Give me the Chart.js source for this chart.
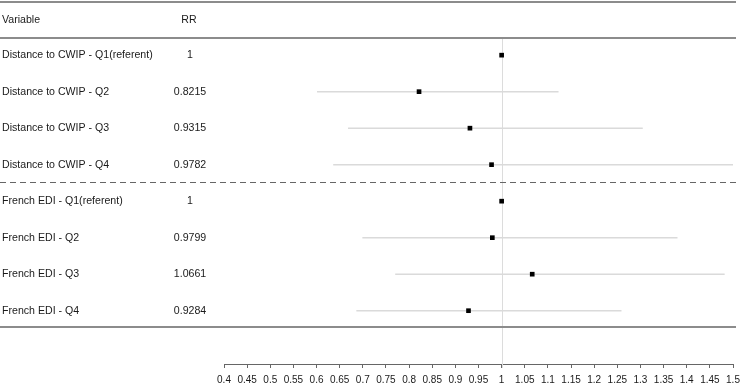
<!DOCTYPE html>
<html>
<head>
<meta charset="utf-8">
<script src="https://cdn.jsdelivr.net/npm/chart.js"></script>
<style>
  body { margin: 0; background: #fff; }
  #wrap { width: 746px; height: 389px; position: relative; }
</style>
</head>
<body>
<div id="wrap"><canvas id="forest"></canvas></div>
<script>
// table rows, top to bottom
const variables = [
  "Distance to CWIP - Q1(referent)",
  "Distance to CWIP - Q2",
  "Distance to CWIP - Q3",
  "Distance to CWIP - Q4",
  "French EDI - Q1(referent)",
  "French EDI - Q2",
  "French EDI - Q3",
  "French EDI - Q4"
];
const rrLabels = ["1", "0.8215", "0.9315", "0.9782", "1", "0.9799", "1.0661", "0.9284"];
const rr = [1, 0.8215, 0.9315, 0.9782, 1, 0.9799, 1.0661, 0.9284];
// confidence limits (null = referent, no interval drawn)
const ciLow = [null, 0.601, 0.668, 0.636, null, 0.699, 0.770, 0.686];
const ciHigh = [null, 1.123, 1.305, 1.502, null, 1.380, 1.482, 1.259];
const xTicks = { min: 0.4, max: 1.5, step: 0.05 };

Chart.defaults.font.family = "'Liberation Sans', Arial, sans-serif";

const ciSets = [];
rr.forEach((v, i) => {
  if (ciLow[i] == null) return;
  ciSets.push({
    data: [{ x: ciLow[i], y: i }, { x: ciHigh[i], y: i }],
    showLine: true,
    borderColor: "#dadada",
    borderWidth: 1.5,
    pointRadius: 0,
    order: 2
  });
});

const pointSet = {
  data: rr.map((v, i) => ({ x: v, y: i })),
  pointStyle: "rect",
  pointRadius: 3.3,
  backgroundColor: "#000",
  borderColor: "#000",
  borderWidth: 0,
  order: 1
};

// draws the table part: rules, separator, reference line and texts
const forestTable = {
  id: "forestTable",
  beforeDatasetsDraw(chart) {
    const { ctx, scales } = chart;
    const x = scales.x, y = scales.y;
    const right = 736;
    ctx.save();

    // reference line at RR = 1
    ctx.strokeStyle = "#dcdcdc";
    ctx.lineWidth = 1;
    const rx = Math.round(x.getPixelForValue(1)) + 0.5;
    ctx.beginPath();
    ctx.moveTo(rx, y.getPixelForValue(-0.47));
    ctx.lineTo(rx, chart.chartArea.bottom + 4);
    ctx.stroke();

    // solid rules
    ctx.strokeStyle = "#8c8c8c";
    ctx.lineWidth = 2;
    [-1.46, -0.47, rr.length - 0.55].forEach(v => {
      const py = Math.round(y.getPixelForValue(v));
      ctx.beginPath();
      ctx.moveTo(0, py);
      ctx.lineTo(right, py);
      ctx.stroke();
    });

    // dashed separator between groups
    ctx.strokeStyle = "#666";
    ctx.lineWidth = 1;
    ctx.setLineDash([6, 4]);
    const dy = Math.round(y.getPixelForValue(3.48)) + 0.5;
    ctx.beginPath();
    ctx.moveTo(0, dy);
    ctx.lineTo(right, dy);
    ctx.stroke();
    ctx.setLineDash([]);

    // texts
    ctx.fillStyle = "#1a1a1a";
    ctx.font = "10.6px 'Liberation Sans', Arial, sans-serif";
    ctx.textBaseline = "middle";
    const hy = y.getPixelForValue(-0.95);
    ctx.textAlign = "left";
    ctx.fillText("Variable", 2, hy);
    ctx.textAlign = "center";
    ctx.fillText("RR", 189, hy);
    variables.forEach((name, i) => {
      const py = y.getPixelForValue(i);
      ctx.textAlign = "left";
      ctx.fillText(name, 2, py);
      ctx.textAlign = "center";
      ctx.fillText(rrLabels[i], 190, py);
    });
    ctx.restore();
  }
};

new Chart(document.getElementById("forest"), {
  type: "scatter",
  data: { datasets: [...ciSets, pointSet] },
  options: {
    responsive: true,
    maintainAspectRatio: false,
    animation: false,
    layout: { autoPadding: false, padding: { left: 224, right: 13, top: 0, bottom: -3 } },
    plugins: { legend: { display: false }, tooltip: { enabled: false } },
    scales: {
      x: {
        type: "linear",
        min: xTicks.min,
        max: xTicks.max,
        border: { color: "#666", width: 1 },
        grid: { drawOnChartArea: false, color: "#666", tickLength: 4 },
        ticks: {
          stepSize: xTicks.step,
          autoSkip: false,
          maxRotation: 0,
          color: "#1a1a1a",
          padding: 6,
          font: { size: 10 },
          callback: v => String(Math.round(v * 100) / 100)
        }
      },
      y: {
        type: "linear",
        display: false,
        reverse: true,
        min: -1.511,
        max: 8.46
      }
    }
  },
  plugins: [forestTable]
});
</script>
</body>
</html>
